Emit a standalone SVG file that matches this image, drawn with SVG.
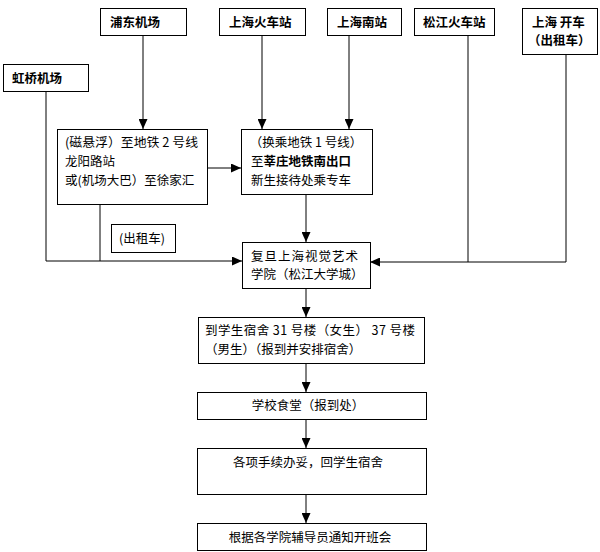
<svg xmlns="http://www.w3.org/2000/svg" width="600" height="552" viewBox="0 0 600 552">
<style>
rect{fill:#fff;stroke:#000;stroke-width:1}
text{font-family:"Noto Sans CJK SC","Liberation Sans",sans-serif;font-size:12.5px;fill:#000}
.b{font-weight:bold;font-size:12.5px}
.c{stroke:#000;stroke-width:1;fill:none}
</style>
<defs>
<marker id="ar" markerUnits="userSpaceOnUse" markerWidth="10" markerHeight="9" refX="10" refY="4.5" orient="auto">
<path d="M0,0 L10,4.5 L0,9 z" fill="#000"/>
</marker>
</defs>
<rect width="600" height="552" fill="#fff" style="stroke:none"/>
<g id="connectors">
<path class="c" d="M143,35 V129" marker-end="url(#ar)"/>
<path class="c" d="M262,35 V129" marker-end="url(#ar)"/>
<path class="c" d="M349,35 V129" marker-end="url(#ar)"/>
<path class="c" d="M207,168 H241" marker-end="url(#ar)"/>
<path class="c" d="M306,194 V242" marker-end="url(#ar)"/>
<path class="c" d="M46,91 V261 H242" marker-end="url(#ar)"/>
<path class="c" d="M100,204 V261"/>
<path class="c" d="M468,35 V262"/>
<path class="c" d="M566,54 V262 H370" marker-end="url(#ar)"/>
<path class="c" d="M306,288 V317" marker-end="url(#ar)"/>
<path class="c" d="M306,363 V392" marker-end="url(#ar)"/>
<path class="c" d="M306,419 V448" marker-end="url(#ar)"/>
<path class="c" d="M306,494 V523" marker-end="url(#ar)"/>
</g>
<g id="pudong"><rect x="100.5" y="8.5" width="86" height="27"/><text class="b" x="110" y="27">浦东机场</text></g>
<g id="shanghai-station"><rect x="219.5" y="8.5" width="86" height="27"/><text class="b" x="229" y="27">上海火车站</text></g>
<g id="hongqiao"><rect x="3.5" y="64.5" width="85" height="27"/><text class="b" x="12" y="83">虹桥机场</text></g>
<g id="south-station"><rect x="327.5" y="8.5" width="74" height="27"/><text class="b" x="337" y="27">上海南站</text></g>
<g id="songjiang-station"><rect x="414.5" y="8.5" width="80" height="27"/><text class="b" x="423" y="27">松江火车站</text></g>
<g id="drive"><rect x="522.5" y="8.5" width="75" height="46"/><text class="b" x="532" y="27">上海 开车</text><text class="b" x="528" y="45">（出租车）</text></g>
<g id="maglev"><rect x="57.5" y="129.5" width="150" height="75"/>
<text x="65" y="147" textLength="133" lengthAdjust="spacingAndGlyphs">(磁悬浮）至地铁 2 号线</text>
<text x="65" y="166">龙阳路站</text>
<text x="65" y="185">或(机场大巴）至徐家汇</text></g>
<g id="metro"><rect x="241.5" y="129.5" width="131" height="65"/>
<text x="306" y="147" text-anchor="middle">（换乘地铁 1 号线）</text>
<text x="251" y="166">至<tspan font-weight="bold">莘庄地铁南出口</tspan></text>
<text x="251" y="185">新生接待处乘专车</text></g>
<g id="taxi"><rect x="111.5" y="224.5" width="64" height="28"/><text x="119" y="243">(出租车)</text></g>
<g id="school"><rect x="242.5" y="242.5" width="128" height="46"/>
<text x="251" y="261" letter-spacing="1">复旦上海视觉艺术</text>
<text x="251" y="279">学院（松江大学城）</text></g>
<g id="dorm"><rect x="198.5" y="317.5" width="226" height="46"/>
<text x="205" y="335" textLength="210">到学生宿舍 31 号楼（女生） 37 号楼</text>
<text x="205" y="354">（男生）（报到并安排宿舍）</text></g>
<g id="canteen"><rect x="197.5" y="392.5" width="229" height="27"/><text x="308" y="410" text-anchor="middle">学校食堂（报到处）</text></g>
<g id="procedures"><rect x="197.5" y="448.5" width="229" height="46"/><text x="308" y="467" text-anchor="middle">各项手续办妥，回学生宿舍</text></g>
<g id="meeting"><rect x="197.5" y="523.5" width="229" height="27"/><text x="310" y="542" text-anchor="middle">根据各学院辅导员通知开班会</text></g>
</svg>
